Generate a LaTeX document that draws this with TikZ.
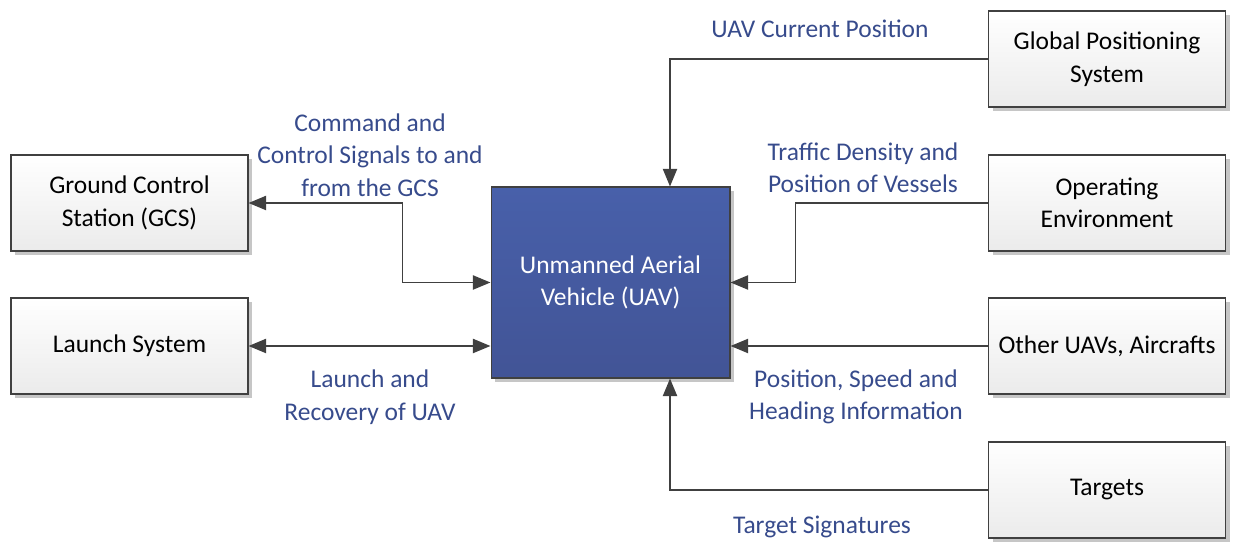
\documentclass[tikz,border=0pt]{standalone}
\usepackage{fontspec}
\setmainfont{Carlito}
\usepackage{tikz}
\usetikzlibrary{calc, arrows.meta, shadows}
\definecolor{uavblue}{RGB}{72, 96, 170}
\definecolor{uavdark}{RGB}{66, 84, 150}
\definecolor{labelblue}{RGB}{55, 75, 140}
\definecolor{linegrey}{RGB}{64, 64, 64}
\definecolor{boxgrey}{RGB}{235, 235, 235}

\begin{document}
\begin{tikzpicture}[x=0.02cm, y=0.02cm, every node/.style={font=\fontsize{14.5}{18.5}\selectfont, align=center},
    sysbox/.style={draw=linegrey, semithick, rectangle, top color=white, bottom color=boxgrey, minimum width=4.74cm, minimum height=1.92cm, inner sep=2pt, drop shadow={shadow xshift=2.5pt, shadow yshift=-2.5pt, fill=gray!45, opacity=1}},
    flow/.style={-{Triangle[length=10pt, width=8pt]}, line width=1.1pt, linegrey},
    label/.style={text=labelblue}]
    % Background / bounding box
    \useasboundingbox (0,0) rectangle (1233,543);

    % Central system
    \node [draw=linegrey, semithick, rectangle, top color=uavblue, bottom color=uavdark, minimum width=4.78cm, minimum height=3.82cm, text=white, drop shadow={shadow xshift=2.5pt, shadow yshift=-2.5pt, fill=gray!45, opacity=1}] (uav) at (610.5,260.5) {Unmanned Aerial\\Vehicle (UAV)};

    % Left side systems
    \node [sysbox] (gcs) at (129.5,340) {Ground Control\\Station (GCS)};
    \node [sysbox] (launch) at (129.5,197) {Launch System};

    % Right side systems
    \node [sysbox] (gps) at (1107,484) {Global Positioning\\System};
    \node [sysbox] (env) at (1107,340) {Operating\\Environment};
    \node [sysbox] (others) at (1107,197) {Other UAVs, Aircrafts};
    \node [sysbox] (targets) at (1107,53) {Targets};

    % Connectors
    \draw [flow] (gps.west) -| ($(uav.north)+(59.5,0)$);
    \draw [flow] (env.west) -| ($(uav.east)+(65,0)$) -- (uav.east);
    \draw [flow] (others.west) -- (others.west -| uav.east);
    \draw [flow] (targets.west) -| ($(uav.south)+(59.5,0)$);
    \draw [flow, {Triangle[length=10pt, width=8pt]}-{Triangle[length=10pt, width=8pt]}] (gcs.east) -| ($(uav.west)+(-88,0)$) -- (uav.west);
    \draw [flow, {Triangle[length=10pt, width=8pt]}-{Triangle[length=10pt, width=8pt]}] (launch.east) -- (launch.east -| uav.west);

    % Connector labels
    \node [label] (lblgps) at (820,514) {UAV Current Position};
    \node [label] (lblenv) at (863,375) {Traffic Density and\\Position of Vessels};
    \node [label] (lblothers) at (856,146) {Position, Speed and\\Heading Information};
    \node [label] (lbltargets) at (822,16) {Target Signatures};
    \node [label] (lblgcs) at (370,388) {Command and\\Control Signals to and\\from the GCS};
    \node [label] (lbllaunch) at (370,146) {Launch and\\Recovery of UAV};
\end{tikzpicture}
\end{document}
